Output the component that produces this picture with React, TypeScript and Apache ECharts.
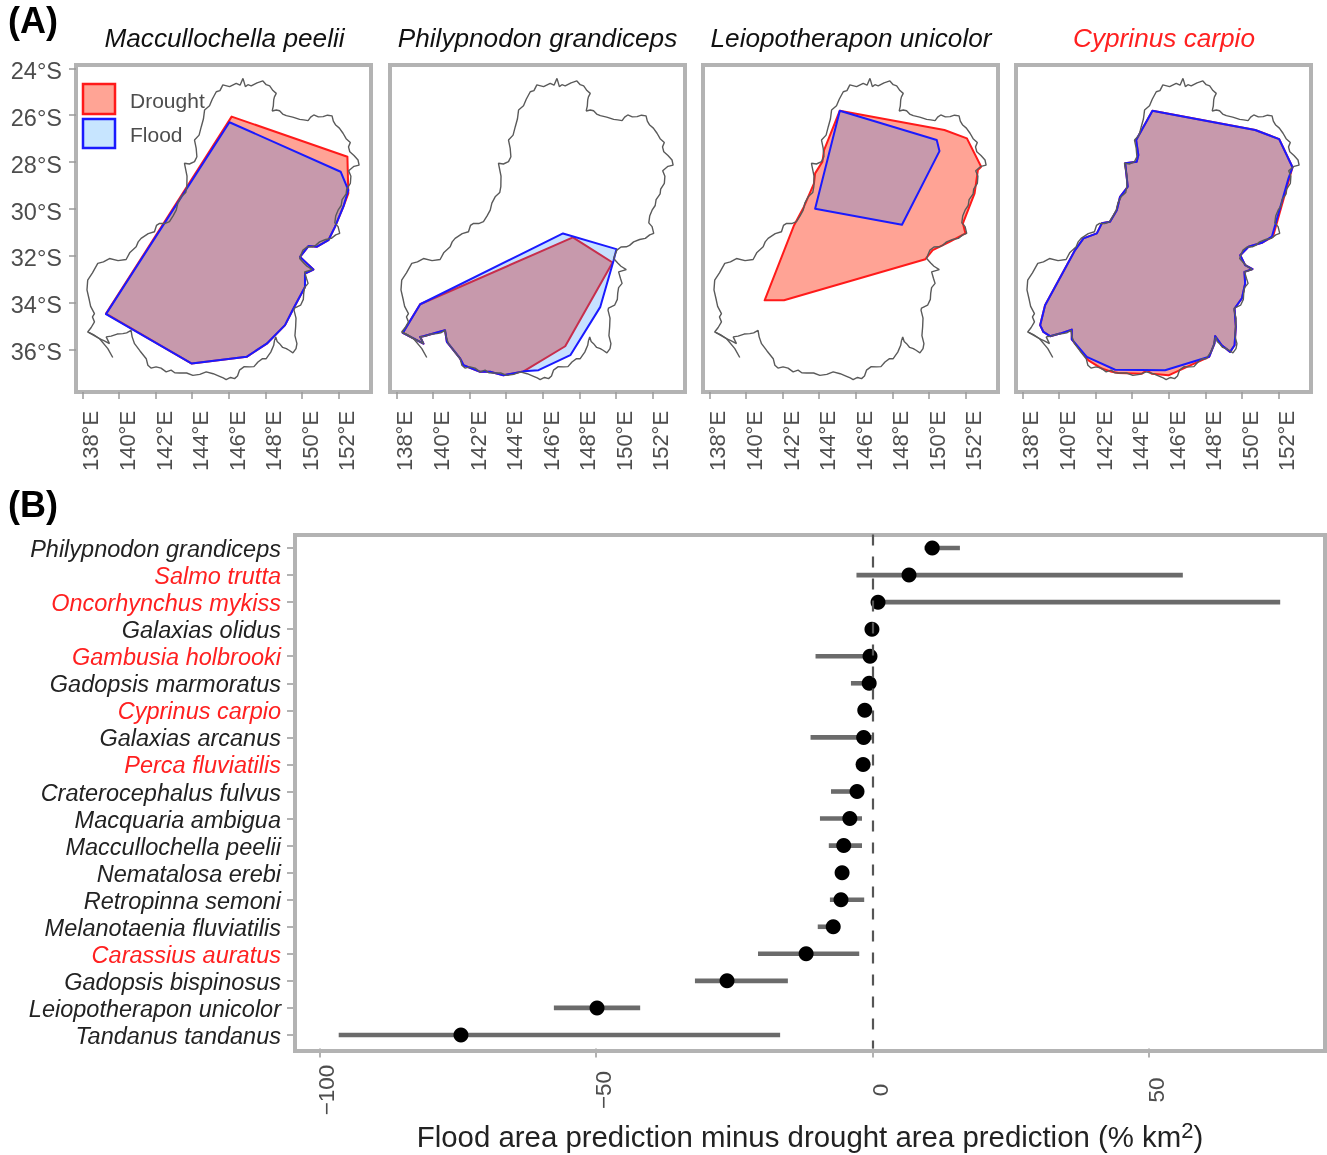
import React, { useEffect, useRef } from "react";
import * as echarts from "echarts";

type P = [number, number];

// Basin outline, [longitude °E, latitude °S]
const basinOutline: P[] = [
  [146.78,24.43],[146.91,24.78],[147.05,24.7],[147.23,24.75],[147.55,24.62],[147.87,24.54],[148.05,24.7],[148.24,24.75],[148.42,24.95],[148.6,25.07],[148.5,25.22],[148.46,25.35],[148.44,25.6],[148.38,25.82],[148.6,25.78],[148.78,25.81],[148.95,25.95],[149.15,26.02],[149.5,26.08],[149.88,26.18],[150.1,26.2],[150.34,26.23],[150.48,26.08],[150.65,25.99],[150.9,26.07],[151.16,26.06],[151.4,26.0],[151.65,26.03],[151.72,26.25],[151.85,26.42],[152.05,26.55],[152.25,26.77],[152.42,27.0],[152.65,27.16],[152.55,27.35],[152.62,27.56],[152.85,27.72],[153.07,27.91],[153.13,28.13],[152.85,28.18],[152.56,28.37],[152.68,28.6],[152.65,28.91],[152.45,29.15],[152.42,29.35],[152.2,29.6],[152.15,29.85],[151.98,30.05],[151.85,30.3],[151.8,30.59],[151.98,30.75],[152.07,31.04],[151.85,31.1],[151.61,31.25],[151.3,31.3],[150.97,31.4],[150.75,31.55],[150.57,31.61],[150.28,31.62],[150.06,31.75],[149.95,31.95],[149.88,32.11],[150.1,32.3],[150.28,32.44],[150.57,32.58],[150.15,32.68],[150.25,32.95],[150.34,33.17],[150.15,33.35],[150.1,33.6],[150.08,33.85],[149.93,34.1],[149.6,34.22],[149.57,34.31],[149.68,34.65],[149.66,35.02],[149.62,35.4],[149.73,35.74],[149.68,35.95],[149.51,36.13],[149.3,36.02],[149.15,35.95],[148.95,35.9],[148.78,35.74],[148.65,35.65],[148.57,35.45],[148.5,35.62],[148.46,35.81],[148.3,36.1],[148.05,36.38],[147.85,36.38],[147.6,36.52],[147.38,36.72],[147.14,36.73],[146.85,36.72],[146.59,36.87],[146.48,37.12],[146.32,37.23],[146.1,37.18],[145.86,37.27],[145.7,37.2],[145.5,37.13],[145.15,37.02],[144.77,36.94],[144.42,37.05],[144.04,37.09],[143.7,36.99],[143.31,36.99],[143.05,36.98],[142.85,36.87],[142.58,36.94],[142.3,36.78],[142.03,36.73],[141.75,36.78],[141.58,36.66],[141.49,36.38],[141.15,36.05],[140.85,35.74],[140.72,35.45],[140.66,35.17],[140.42,35.28],[140.21,35.31],[139.9,35.33],[139.57,35.42],[139.3,35.45],[139.48,35.74],[139.2,35.62],[138.93,35.52],[138.6,35.35],[138.29,35.24],[138.48,35.05],[138.66,34.81],[138.55,34.6],[138.66,34.46],[138.45,34.15],[138.38,33.89],[138.25,33.45],[138.29,33.03],[138.55,32.72],[138.84,32.32],[139.15,32.25],[139.48,32.11],[139.95,32.2],[140.39,32.15],[140.6,31.85],[140.94,31.61],[141.05,31.4],[141.21,31.25],[141.6,31.05],[141.94,30.97],[142.05,30.7],[142.22,30.61],[142.5,30.62],[142.76,30.54],[142.95,30.3],[143.13,30.05],[143.22,29.75],[143.4,29.48],[143.65,29.3],[143.71,29.05],[143.72,28.6],[143.58,28.05],[143.85,28.08],[144.13,27.98],[144.26,27.77],[144.22,27.4],[144.13,27.06],[144.38,26.85],[144.5,26.49],[144.62,26.15],[144.68,25.78],[144.95,25.6],[145.1,25.32],[145.32,25.0],[145.52,24.95],[145.68,24.71],[146.05,24.78],[146.41,24.64],[146.62,24.72],[146.78,24.43],
];
const basinTail: P[] = [[138.29,35.24],[138.93,35.52],[139.39,35.95],[139.66,36.33]];

const peeliiDrought: P[] = [[139.29,34.46],[146.16,26.06],[152.49,27.77],[152.54,29.33],[152.27,29.9],[151.81,30.76],[151.45,31.33],[150.81,31.61],[150.36,31.58],[149.9,32.04],[150.63,32.58],[150.17,32.75],[150.17,33.32],[149.54,34.24],[149.08,34.95],[148.08,35.74],[146.98,36.3],[143.98,36.59]];
const peeliiFlood: P[] = [[139.29,34.48],[146.04,26.3],[152.12,28.41],[152.54,29.19],[152.27,29.9],[151.81,30.76],[151.45,31.33],[150.81,31.61],[150.36,31.58],[149.9,32.04],[150.63,32.58],[150.17,32.75],[150.17,33.32],[149.54,34.24],[149.08,34.95],[148.08,35.74],[146.98,36.3],[143.98,36.59]];

const philyFlood: P[] = [[138.35,35.28],[139.3,34.06],[147.11,31.04],[150.03,31.71],[149.88,32.18],[149.15,34.17],[147.51,36.23],[145.77,36.87],[144.95,36.92],[143.85,37.09],[143.13,36.94],[142.58,36.94],[141.67,36.66],[141.49,36.38],[140.76,35.66],[140.66,35.17],[139.48,35.42],[139.3,35.45],[139.48,35.74]];
const philyDrought: P[] = [[138.35,35.28],[139.3,34.06],[147.65,31.21],[149.82,32.28],[147.23,35.85],[144.95,36.92],[143.85,37.09],[143.13,36.94],[142.58,36.94],[141.67,36.66],[141.49,36.38],[140.76,35.66],[140.66,35.17],[139.48,35.42],[139.3,35.45],[139.48,35.74]];

const leioDrought: P[] = [[141.02,33.89],[142.08,33.89],[149.81,32.14],[150.21,31.75],[151.13,31.4],[152.0,31.04],[151.86,30.61],[152.5,29.33],[152.68,28.34],[152.86,28.2],[152.08,26.99],[150.85,26.63],[145.13,25.81],[144.27,27.49],[144.18,27.98],[143.78,28.48],[143.72,28.91],[143.17,29.9],[142.63,30.69]];
const leioFlood: P[] = [[145.13,25.81],[150.43,27.06],[150.58,27.53],[148.53,30.67],[143.78,29.99]];

const carpioFlood: P[] = [[145.11,25.81],[150.73,26.63],[152.04,27.02],[152.77,28.22],[152.55,28.69],[151.64,31.18],[151.09,31.44],[150.36,31.61],[149.91,31.97],[150.18,32.39],[150.58,32.56],[150.14,32.68],[150.18,33.17],[150.0,33.81],[149.6,34.24],[149.67,35.02],[149.6,35.81],[149.36,36.09],[148.9,35.81],[148.54,35.42],[148.5,35.74],[148.21,36.3],[145.8,36.87],[143.07,36.85],[141.52,36.3],[140.7,35.56],[140.7,35.14],[140.06,35.31],[139.51,35.42],[139.15,35.24],[138.97,34.95],[139.24,34.1],[140.88,31.75],[141.34,31.25],[142.07,31.04],[142.34,30.61],[142.79,30.54],[143.16,30.05],[143.34,29.48],[143.76,29.05],[143.62,28.05],[144.25,27.98],[144.34,27.7],[144.22,27.06]];
const carpioDrought: P[] = [[145.11,25.81],[150.73,26.63],[152.04,27.02],[152.77,28.22],[152.6,28.69],[151.7,31.18],[151.09,31.44],[150.36,31.61],[149.91,31.97],[150.18,32.39],[150.58,32.56],[150.14,32.68],[150.18,33.17],[150.0,33.81],[149.6,34.24],[149.67,35.02],[149.6,35.81],[149.36,36.09],[148.9,35.81],[148.54,35.42],[148.5,35.74],[148.21,36.3],[147.0,36.73],[145.99,37.09],[145.07,37.02],[144.8,36.87],[144.53,37.02],[143.25,36.99],[142.89,36.94],[142.34,36.8],[141.61,36.45],[140.7,35.56],[140.7,35.14],[140.06,35.31],[139.51,35.42],[139.15,35.24],[138.97,34.95],[139.24,34.1],[140.88,31.75],[141.34,31.25],[142.07,31.04],[142.34,30.61],[142.79,30.54],[143.16,30.05],[143.34,29.48],[143.76,29.05],[143.62,28.05],[144.25,27.98],[144.34,27.7],[144.22,27.06]];

const mapSpecies = ["Maccullochella peelii", "Philypnodon grandiceps", "Leiopotherapon unicolor", "Cyprinus carpio"];
const mapDrought = [peeliiDrought, philyDrought, leioDrought, carpioDrought];
const mapFlood = [peeliiFlood, philyFlood, leioFlood, carpioFlood];

const lonTicks = [138, 140, 142, 144, 146, 148, 150, 152];
const latTicks = [24, 26, 28, 30, 32, 34, 36];

// Panel B
const species = ["Philypnodon grandiceps","Salmo trutta","Oncorhynchus mykiss","Galaxias olidus","Gambusia holbrooki","Gadopsis marmoratus","Cyprinus carpio","Galaxias arcanus","Perca fluviatilis","Craterocephalus fulvus","Macquaria ambigua","Maccullochella peelii","Nematalosa erebi","Retropinna semoni","Melanotaenia fluviatilis","Carassius auratus","Gadopsis bispinosus","Leiopotherapon unicolor","Tandanus tandanus"];
const alienSpecies = ["Salmo trutta","Oncorhynchus mykiss","Gambusia holbrooki","Cyprinus carpio","Perca fluviatilis","Carassius auratus"];
const meanDiff = [10.8,6.6,1.0,-0.1,-0.45,-0.6,-1.4,-1.6,-1.7,-2.8,-4.1,-5.2,-5.5,-5.7,-7.1,-12.0,-26.3,-49.8,-74.4];
const lowDiff = [9.4,-2.9,-0.1,-0.6,-10.3,-3.9,-2.0,-11.2,-2.3,-7.5,-9.5,-7.9,-6.6,-7.7,-9.9,-20.7,-32.1,-57.6,-96.5];
const highDiff = [15.8,56.1,73.7,0.2,-0.1,-0.1,-0.9,-0.1,-1.2,-1.9,-1.9,-1.9,-4.4,-1.5,-6.2,-2.4,-15.3,-42.0,-16.7];
const diffTicks = [-100, -50, 0, 50];

const FONT = "Liberation Sans, Arial, sans-serif";
const GRAY = "#4d4d4d";
const FRAME = "#b3b3b3";
const DROUGHT = { fill: "rgba(255,50,20,0.45)", stroke: "#ff1a1a" };
const FLOOD = { fill: "rgba(0,120,255,0.22)", stroke: "#1a1aff" };
const panelLeft = [76, 390, 703, 1016];
const titleX = [224.5, 537.5, 851, 1164];

function polySeries(points: P[], idx: number, c: { fill: string; stroke: string }, z: number) {
  return {
    type: "custom", xAxisIndex: idx, yAxisIndex: idx, z, silent: true, data: points, clip: true,
    renderItem: (params: any, api: any) =>
      params.dataIndex === 0
        ? { type: "polygon", shape: { points: points.map((p) => api.coord(p)) }, style: { fill: c.fill, stroke: c.stroke, lineWidth: 2, lineJoin: "round" } }
        : null,
  };
}

function lineSeries(points: P[], idx: number) {
  return { type: "line", xAxisIndex: idx, yAxisIndex: idx, z: 5, silent: true, showSymbol: false, data: points, lineStyle: { color: "#5a5a5a", width: 1.4 } };
}

export default function App() {
  const ref = useRef<HTMLDivElement>(null);
  useEffect(() => {
    document.body.style.margin = "0";
    const chart = echarts.init(ref.current!, undefined, { renderer: "svg" });
    const grids: any[] = panelLeft.map((left) => ({ left, top: 65, width: 295, height: 327, show: true, borderColor: FRAME, borderWidth: 4, backgroundColor: "#fff", outerBoundsMode: "none" }));
    grids.push({ left: 295, top: 534.5, width: 1030, height: 514, outerBoundsMode: "none" });
    const xAxes: any[] = panelLeft.map((_, i) => ({
      gridIndex: i, type: "value", min: 137.65, max: 153.78, splitLine: { show: false }, axisLine: { show: false, onZero: false },
      axisTick: { show: true, length: 7, customValues: lonTicks, lineStyle: { color: "#999999", width: 1.5 } },
      axisLabel: { customValues: lonTicks, formatter: (v: number) => `${v}°E`, rotate: 90, margin: 49, align: "center", verticalAlign: "top", lineHeight: 17, color: GRAY, fontSize: 22, fontFamily: FONT },
    }));
    const yAxes: any[] = panelLeft.map((_, i) => ({
      gridIndex: i, type: "value", inverse: true, min: 23.86, max: 37.8, splitLine: { show: false }, axisLine: { show: false, onZero: false },
      axisTick: { show: i === 0, length: 7, customValues: latTicks, lineStyle: { color: "#999999", width: 1.5 } },
      axisLabel: { show: i === 0, customValues: latTicks, formatter: (v: number) => `${v}°S`, margin: 14, verticalAlign: "top", lineHeight: 5, color: GRAY, fontSize: 23.5, fontFamily: FONT },
    }));
    xAxes.push({
      gridIndex: 4, type: "value", min: -104.4, max: 81.8, splitLine: { show: false }, axisLine: { show: false, onZero: false },
      axisTick: { show: true, length: 9, customValues: diffTicks, lineStyle: { color: "#999999", width: 1.5 } },
      axisLabel: { customValues: diffTicks, formatter: (v: number) => (v < 0 ? `−${-v}` : `${v}`), rotate: 90, margin: 41.5, align: "center", verticalAlign: "top", lineHeight: 15, color: GRAY, fontSize: 22.5, fontFamily: FONT },
      name: "{t|Flood area prediction minus drought area prediction (% km}{s|2}{t|)}",
      nameLocation: "middle", nameGap: 68,
      nameTextStyle: { fontFamily: FONT, rich: { t: { fontSize: 29.4, color: "#222222", fontFamily: FONT, lineHeight: 34 }, s: { fontSize: 22, color: "#222222", fontFamily: FONT, verticalAlign: "top", lineHeight: 34 } } },
    });
    yAxes.push({
      gridIndex: 4, type: "category", inverse: true, data: species, axisLine: { show: false, onZero: false },
      axisTick: { show: true, length: 8, alignWithLabel: true, lineStyle: { color: "#999999", width: 1.5 } },
      axisLabel: { interval: 0, margin: 14, fontStyle: "italic", fontSize: 23.5, fontFamily: FONT, verticalAlign: "top", lineHeight: 2, color: (v: string) => (alienSpecies.includes(v) ? "#ff2020" : "#222222") },
    });

    const series: any[] = [];
    panelLeft.forEach((_, i) => {
      series.push(polySeries(mapDrought[i], i, DROUGHT, 2));
      series.push(polySeries(mapFlood[i], i, FLOOD, 3));
      series.push(lineSeries(basinOutline, i));
      series.push(lineSeries(basinTail, i));
    });
    series.push({
      type: "custom", xAxisIndex: 4, yAxisIndex: 4, z: 3, silent: true,
      data: species.map((_, i) => [lowDiff[i], highDiff[i], i]),
      encode: { x: [0, 1], y: 2 },
      renderItem: (_: any, api: any) => {
        const a = api.coord([api.value(0), api.value(2)]);
        const b = api.coord([api.value(1), api.value(2)]);
        return { type: "line", shape: { x1: a[0], y1: a[1], x2: b[0], y2: b[1] }, style: { stroke: "#6b6b6b", lineWidth: 4.6 } };
      },
    });
    series.push({
      type: "scatter", xAxisIndex: 4, yAxisIndex: 4, z: 4, silent: true, symbolSize: 15,
      itemStyle: { color: "#000", opacity: 1 },
      data: species.map((_, i) => [meanDiff[i], i]),
      markLine: { silent: true, symbol: "none", label: { show: false }, lineStyle: { color: "#555555", type: [11, 11], width: 2.2 }, data: [{ xAxis: 0 }] },
    });

    chart.setOption({
      animation: false,
      backgroundColor: "#fff",
      title: mapSpecies.map((text, i) => ({
        text, left: titleX[i], top: 38, textAlign: "center", textVerticalAlign: "middle", padding: 0,
        textStyle: { fontFamily: FONT, fontStyle: "italic", fontWeight: "normal", fontSize: 26.2, color: text === "Cyprinus carpio" ? "#ff2020" : "#111111" },
      })),
      grid: grids, xAxis: xAxes, yAxis: yAxes, series,
      graphic: [
        { type: "text", left: 8, top: 2, style: { text: "(A)", font: `bold 36px ${FONT}`, fill: "#000" } },
        { type: "text", left: 8, top: 486, style: { text: "(B)", font: `bold 36px ${FONT}`, fill: "#000" } },
        { type: "rect", z: 1, shape: { x: 295, y: 535, width: 1030, height: 516 }, style: { fill: "none", stroke: FRAME, lineWidth: 4 } },
        { type: "rect", z: 20, shape: { x: 83, y: 84, width: 32, height: 30 }, style: { fill: "#ffa495", stroke: "#ff1a1a", lineWidth: 2.5 } },
        { type: "rect", z: 20, shape: { x: 83, y: 119, width: 32, height: 29 }, style: { fill: "#c7e5ff", stroke: "#1a1aff", lineWidth: 2.5 } },
        { type: "text", z: 20, x: 130, y: 100, style: { text: "Drought", font: `21px ${FONT}`, fill: GRAY, textVerticalAlign: "middle" } },
        { type: "text", z: 20, x: 130, y: 134, style: { text: "Flood", font: `21px ${FONT}`, fill: GRAY, textVerticalAlign: "middle" } },
      ],
    });
    return () => chart.dispose();
  }, []);
  return <div ref={ref} style={{ position: "absolute", left: 0, top: 0, width: 1327, height: 1155, filter: "blur(0.4px)" }} />;
}
